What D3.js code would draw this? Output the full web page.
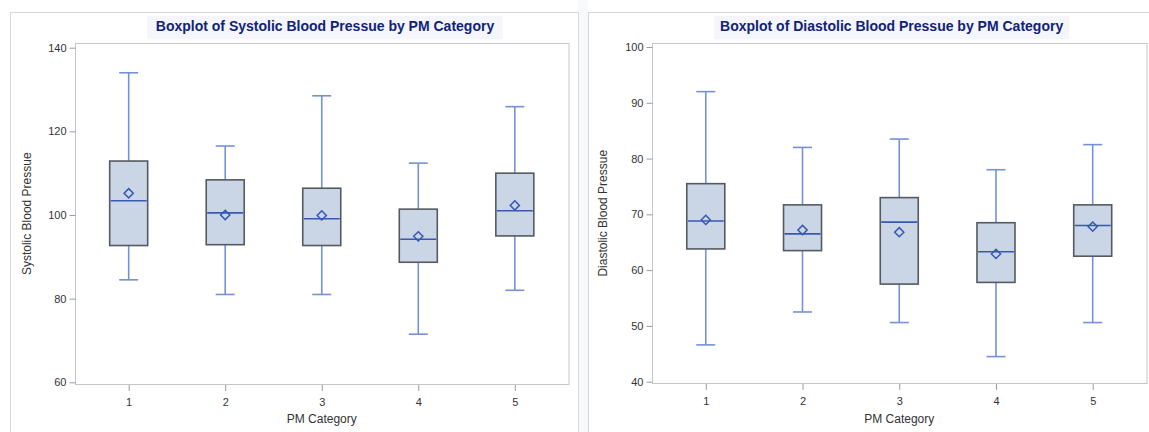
<!DOCTYPE html>
<html>
<head>
<meta charset="utf-8">
<script src="https://cdn.jsdelivr.net/npm/d3@7"></script>
<style>
  html, body { margin: 0; padding: 0; background: #fff; }
  svg { display: block; font-family: "Liberation Sans", Arial, sans-serif; }
</style>
</head>
<body>
<svg id="chart" width="1149" height="432"></svg>
<script>
// ---- Data ----
const categories = ["1", "2", "3", "4", "5"];

// Systolic
const sysMin    = [84.5, 81.0, 81.0, 71.5, 82.0];
const sysQ1     = [92.7, 92.9, 92.7, 88.7, 95.0];
const sysMedian = [103.4, 100.5, 99.1, 94.2, 101.0];
const sysMean   = [105.2, 100.0, 99.9, 94.9, 102.3];
const sysQ3     = [112.9, 108.4, 106.4, 101.4, 110.0];
const sysMax    = [134.0, 116.5, 128.5, 112.4, 125.9];
const sysTicks  = [60, 80, 100, 120, 140];

// Diastolic
const diaMin    = [46.6, 52.5, 50.6, 44.5, 50.6];
const diaQ1     = [63.8, 63.5, 57.5, 57.8, 62.5];
const diaMedian = [68.8, 66.5, 68.6, 63.3, 68.0];
const diaMean   = [69.0, 67.2, 66.8, 62.9, 67.8];
const diaQ3     = [75.5, 71.7, 73.0, 68.5, 71.7];
const diaMax    = [92.0, 82.0, 83.5, 78.0, 82.5];
const diaTicks  = [40, 50, 60, 70, 80, 90, 100];

const titles = ["Boxplot of Systolic Blood Pressue by PM Category",
                "Boxplot of Diastolic Blood Pressue by PM Category"];
const yLabels = ["Systolic Blood Pressue", "Diastolic Blood Pressue"];
const xLabel = "PM Category";

// ---- Drawing ----
const svg = d3.select("#chart");

// gap strip between panels
svg.append("rect").attr("x", 578).attr("y", 0).attr("width", 10).attr("height", 432).attr("fill", "#f8f9fb");

function rows(mn, q1, md, mean, q3, mx) {
  return categories.map((c, i) => ({cat: c, min: mn[i], q1: q1[i], med: md[i], mean: mean[i], q3: q3[i], max: mx[i]}));
}

function drawPanel(opt) {
  const g = svg.append("g");
  // outer panel frame
  g.append("rect").attr("x", opt.panel[0] + 0.5).attr("y", 12.5)
    .attr("width", opt.panel[1] - opt.panel[0]).attr("height", 440)
    .attr("fill", "#fff").attr("stroke", "#d6d8dc");

  // title background + text
  g.append("rect").attr("x", opt.titleBg[0]).attr("y", 16)
    .attr("width", opt.titleBg[1] - opt.titleBg[0]).attr("height", 23.3)
    .attr("fill", "#f4f6fc");
  g.append("text").attr("x", (opt.titleBg[0] + opt.titleBg[1]) / 2).attr("y", 31)
    .attr("text-anchor", "middle").attr("font-size", 14).attr("font-weight", "bold")
    .attr("fill", "#112277").text(opt.title);

  const x = d3.scalePoint().domain(categories).range([opt.left, opt.right]).padding(0.556);
  const y = d3.scaleLinear().domain(opt.domain).range(opt.yRange);

  // plot frame
  g.append("rect").attr("x", opt.left + 0.5).attr("y", 43.5)
    .attr("width", opt.right - opt.left).attr("height", opt.bottom - 43.5)
    .attr("fill", "none").attr("stroke", "#c4c6ca");

  // y axis
  const ya = g.append("g").attr("transform", `translate(${opt.left + 0.5},0)`)
    .call(d3.axisLeft(y).tickValues(opt.ticks).tickSize(6).tickPadding(3).tickFormat(d3.format("d")));
  ya.select(".domain").remove();
  ya.selectAll("line").attr("stroke", "#9a9ca0");
  ya.selectAll("text").attr("font-size", 11).attr("fill", "#333").attr("font-family", "Liberation Sans, Arial, sans-serif");

  // x axis
  const xa = g.append("g").attr("transform", `translate(0,${opt.bottom + 0.5})`)
    .call(d3.axisBottom(x).tickSize(6).tickPadding(7));
  xa.select(".domain").remove();
  xa.selectAll("line").attr("stroke", "#9a9ca0");
  xa.selectAll("text").attr("font-size", 11).attr("fill", "#333").attr("font-family", "Liberation Sans, Arial, sans-serif");

  // axis labels
  g.append("text").attr("transform", `translate(${opt.yLabelX},${(43 + opt.bottom) / 2}) rotate(-90)`)
    .attr("text-anchor", "middle").attr("font-size", 12).attr("fill", "#333").text(opt.yLabel);
  g.append("text").attr("x", (opt.left + opt.right) / 2).attr("y", 423)
    .attr("text-anchor", "middle").attr("font-size", 12).attr("fill", "#333").text(xLabel);

  const boxW = 38, capW = 19;
  const whiskerColor = "#7592d6", medColor = "#3858b4";
  const b = g.selectAll(".box").data(opt.data).enter().append("g");

  // whiskers
  b.append("line").attr("x1", d => x(d.cat)).attr("x2", d => x(d.cat))
    .attr("y1", d => y(d.max)).attr("y2", d => y(d.q3)).attr("stroke", whiskerColor).attr("stroke-width", 1.6);
  b.append("line").attr("x1", d => x(d.cat)).attr("x2", d => x(d.cat))
    .attr("y1", d => y(d.q1)).attr("y2", d => y(d.min)).attr("stroke", whiskerColor).attr("stroke-width", 1.6);
  b.append("line").attr("x1", d => x(d.cat) - capW / 2).attr("x2", d => x(d.cat) + capW / 2)
    .attr("y1", d => y(d.max)).attr("y2", d => y(d.max)).attr("stroke", whiskerColor).attr("stroke-width", 1.6);
  b.append("line").attr("x1", d => x(d.cat) - capW / 2).attr("x2", d => x(d.cat) + capW / 2)
    .attr("y1", d => y(d.min)).attr("y2", d => y(d.min)).attr("stroke", whiskerColor).attr("stroke-width", 1.6);

  // box
  b.append("rect").attr("x", d => x(d.cat) - boxW / 2).attr("width", boxW)
    .attr("y", d => y(d.q3)).attr("height", d => y(d.q1) - y(d.q3))
    .attr("fill", "#cad5e6").attr("stroke", "#555a60").attr("stroke-width", 1.6);

  // median
  b.append("line").attr("x1", d => x(d.cat) - boxW / 2 + 1).attr("x2", d => x(d.cat) + boxW / 2 - 1)
    .attr("y1", d => y(d.med)).attr("y2", d => y(d.med)).attr("stroke", medColor).attr("stroke-width", 1.6);

  // mean diamond
  b.append("path").attr("d", d => {
      const cx = x(d.cat), cy = y(d.mean), r = 4.6;
      return `M${cx},${cy - r}L${cx + r},${cy}L${cx},${cy + r}L${cx - r},${cy}Z`;
    })
    .attr("fill", "none").attr("stroke", medColor).attr("stroke-width", 1.5);
}

drawPanel({
  panel: [10, 578], titleBg: [147.3, 502.7], title: titles[0],
  left: 75, right: 568.5, bottom: 384.5,
  domain: [60, 140], yRange: [382.3, 47.7], ticks: sysTicks,
  yLabel: yLabels[0], yLabelX: 31,
  data: rows(sysMin, sysQ1, sysMedian, sysMean, sysQ3, sysMax)
});

drawPanel({
  panel: [588, 1160], titleBg: [714, 1069.3], title: titles[1],
  left: 652, right: 1146.5, bottom: 383.5,
  domain: [40, 100], yRange: [381.7, 47], ticks: diaTicks,
  yLabel: yLabels[1], yLabelX: 607,
  data: rows(diaMin, diaQ1, diaMedian, diaMean, diaQ3, diaMax)
});
</script>
</body>
</html>
